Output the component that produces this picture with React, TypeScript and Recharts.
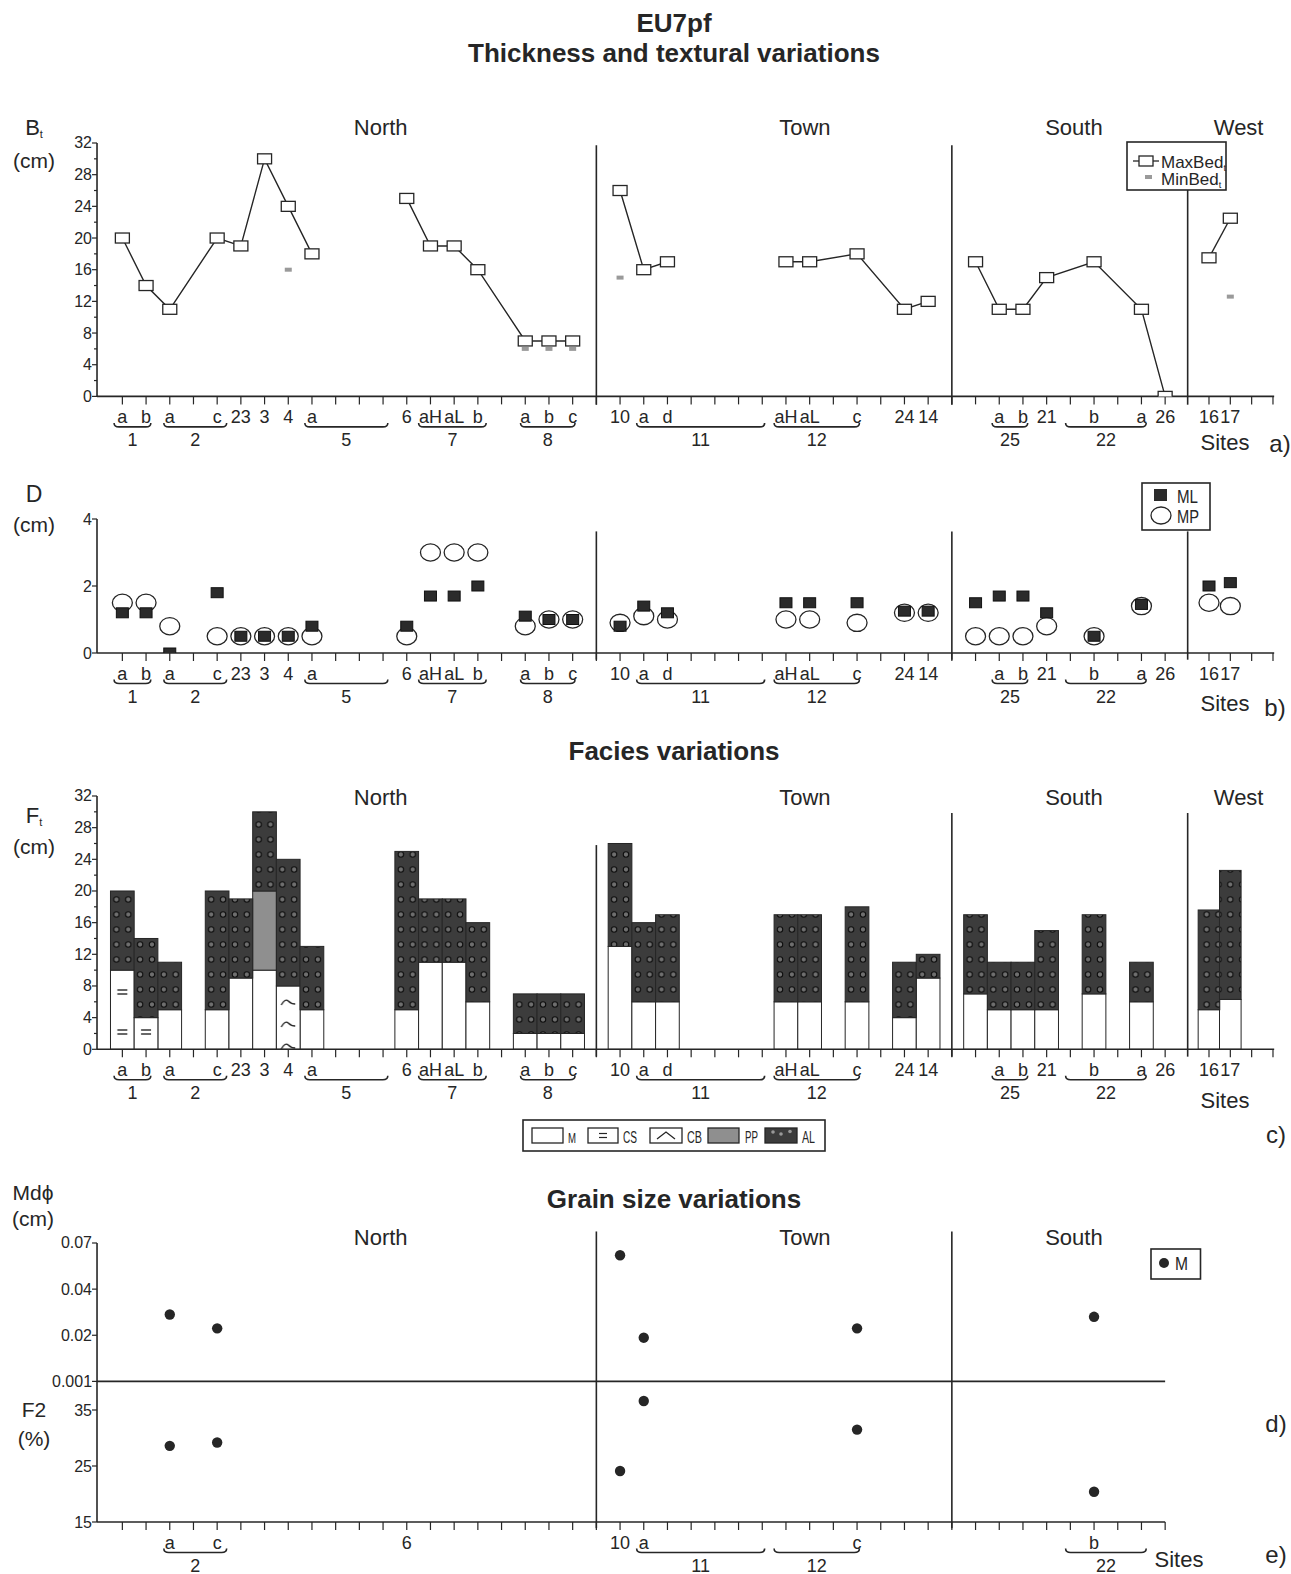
import React from 'react';
import { ComposedChart, Scatter, Bar, XAxis, YAxis, ReferenceLine } from 'recharts';

const FONT = '"Liberation Sans", Arial, Helvetica, sans-serif';
const INK = '#262626';

// ---- sites along the shared axis (one slot per site) ----
const SITES = ['1a', '1b', '2a', '2c', '23', '3', '4', '5a', '6', '7aH', '7aL', '7b', '8a', '8b', '8c', '10', '11a', '11d', '12aH', '12aL', '12c', '24', '14', 'S', '25a', '25b', '21', '22b', '22a', '26', '16', '17'];
const SITE_X = [0, 1, 2, 4, 5, 6, 7, 8, 12, 13, 14, 15, 17, 18, 19, 21, 22, 23, 28, 29, 31, 33, 34, 36, 37, 38, 39, 41, 43, 44, 45.85, 46.75];

// a) bed thickness (cm)
const MAX_BED = [20, 14, 11, 20, 19, 30, 24, 18, 25, 19, 19, 16, 7, 7, 7, 26, 16, 17, 17, 17, 18, 11, 12, 17, 11, 11, 15, 17, 11, 0, 17.5, 22.5];
const MIN_BED = [null, null, null, null, null, null, 16, null, null, null, null, null, 6, 6, 6, 15, null, null, null, null, null, null, null, null, null, null, null, null, null, null, null, 12.6];
const MAX_BED_RUNS = [[0, 7], [8, 14], [15, 17], [18, 22], [23, 29], [30, 31]];

// b) clast diameters (cm)
const ML = [1.2, 1.2, 0, 1.8, 0.5, 0.5, 0.5, 0.8, 0.8, 1.7, 1.7, 2.0, 1.1, 1.0, 1.0, 0.8, 1.4, 1.2, 1.5, 1.5, 1.5, 1.25, 1.25, 1.5, 1.7, 1.7, 1.2, 0.5, 1.45, null, 2.0, 2.1];
const MP = [1.5, 1.5, 0.8, 0.5, 0.5, 0.5, 0.5, 0.5, 0.5, 3, 3, 3, 0.8, 1.0, 1.0, 0.9, 1.1, 1.0, 1.0, 1.0, 0.9, 1.2, 1.2, 0.5, 0.5, 0.5, 0.8, 0.5, 1.4, null, 1.5, 1.4];

// c) facies thickness (cm)
const F_M = [null, null, 5, 5, 9, 10, null, 5, 5, 11, 11, 6, 2, 2, 2, 13, 6, 6, 6, 6, 6, 4, 9, 7, 5, 5, 5, 7, 6, null, 5, 6.3];
const F_CS = [10, 4, null, null, null, null, null, null, null, null, null, null, null, null, null, null, null, null, null, null, null, null, null, null, null, null, null, null, null, null, null, null];
const F_CB = [null, null, null, null, null, null, 8, null, null, null, null, null, null, null, null, null, null, null, null, null, null, null, null, null, null, null, null, null, null, null, null, null];
const F_PP = [null, null, null, null, null, 10, null, null, null, null, null, null, null, null, null, null, null, null, null, null, null, null, null, null, null, null, null, null, null, null, null, null];
const F_AL = [10, 10, 6, 15, 10, 10, 16, 8, 20, 8, 8, 10, 5, 5, 5, 13, 10, 11, 11, 11, 12, 7, 3, 10, 6, 6, 10, 10, 5, null, 12.6, 16.3];

// d) / e) grain size
const GS_X = [2, 4, 21, 22, 31, 41];
const MD = [0.029, 0.023, 0.062, 0.019, 0.023, 0.028];
const F2 = [28.6, 29.2, 24.1, 36.6, 31.5, 20.4];
const MD_TICKS = [0.001, 0.02, 0.04, 0.07];

// ---- tick labels ----
const TICK_X = [0, 1, 2, 3, 4, 5, 6, 7, 8, 9, 10, 11, 12, 13, 14, 15, 16, 17, 18, 19, 20, 21, 22, 23, 24, 25, 26, 27, 28, 29, 30, 31, 32, 33, 34, 35, 36, 37, 38, 39, 40, 41, 42, 43, 44, 45.85, 46.75, 47.65, 48.55];
const TICK_LABELS = ['a', 'b', 'a', '', 'c', '23', '3', '4', 'a', '', '', '', '6', 'aH', 'aL', 'b', '', 'a', 'b', 'c', '', '10', 'a', 'd', '', '', '', '', 'aH', 'aL', '', 'c', '', '24', '14', '', '', 'a', 'b', '21', '', 'b', '', 'a', '26', '16', '17', '', ''];
const GS_TICK_X = [0, 1, 2, 3, 4, 5, 6, 7, 8, 9, 10, 11, 12, 13, 14, 15, 16, 17, 18, 19, 20, 21, 22, 23, 24, 25, 26, 27, 28, 29, 30, 31, 32, 33, 34, 35, 36, 37, 38, 39, 40, 41, 42, 43, 44];
const GS_TICK_LABELS = ['', '', 'a', '', 'c', '', '', '', '', '', '', '', '6', '', '', '', '', '', '', '', '', '10', 'a', '', '', '', '', '', '', '', '', 'c', '', '', '', '', '', '', '', '', '', 'b', '', '', ''];

const GROUP_NAMES = ['1', '2', '5', '7', '8', '11', '12', '25', '22'];
const GROUP_FROM = [-0.35, 1.75, 7.7, 12.5, 16.8, 21.7, 27.5, 36.7, 39.8];
const GROUP_TO = [1.2, 4.4, 11.2, 15.35, 19.1, 27.1, 31.1, 38.2, 43.2];
const GS_GROUP_NAMES = ['2', '11', '12', '22'];
const GS_GROUP_FROM = [1.75, 21.7, 27.5, 39.8];
const GS_GROUP_TO = [4.4, 27.1, 31.1, 43.2];

const REGIONS = ['North', 'Town', 'South', 'West'];
const REGION_X = [10.9, 28.8, 40.15, 47.1];
const DIVIDERS = [20, 35, 44.95];

// ---- layout ----
const CHART_W = 1291;
const LEFT = 97;
const SLOT = 23.7;
const X_MIN = -1.07;
const X_MAX = 48.6;
const X_MAX_GS = 44;
const YAXIS_W = 40;
const MT = 24;
const WEST_BAR = 21.6;

const PA = { top: 143.3, bottom: 396.7 };
const PB = { top: 519.3, bottom: 653.3 };
const PC = { top: 796, bottom: 1049.3 };
const PD = { top: 1243.3, bottom: 1381.7 };
const PE = { top: 1381.7, bottom: 1521.7 };

const xPx = (v: number) => LEFT + (v - X_MIN) * SLOT;
const margin = (xMax: number, bottom = 2) => ({ top: MT, right: CHART_W - LEFT - (xMax - X_MIN) * SLOT, bottom, left: LEFT - YAXIS_W });

function mdPos(v: number) {
  for (let i = 0; i < MD_TICKS.length - 1; i++) {
    if (v <= MD_TICKS[i + 1]) return i + (v - MD_TICKS[i]) / (MD_TICKS[i + 1] - MD_TICKS[i]);
  }
  return MD_TICKS.length - 1;
}

const axisLine = { stroke: INK, strokeWidth: 1.6 };

// rows that only carry x, so every axis has data to build its scale from
const AXIS_ROWS = TICK_X.map((x) => ({ x }));
const GS_AXIS_ROWS = GS_TICK_X.map((x) => ({ x }));

// ---- ticks ----
const siteTick = (xs: number[], labels: string[]) => (p: any) => {
  const i = xs.indexOf(p.payload.value);
  const t = i >= 0 ? labels[i] : '';
  if (!t) return <g />;
  return (
    <text x={p.x} y={p.y + 10.5} textAnchor="middle" dominantBaseline="central" fontSize={18} fontFamily={FONT} fill={INK}>{t}</text>
  );
};

const groupTick = (names: string[], from: number[], to: number[]) => (p: any) => {
  const i = from.findIndex((f, k) => Math.abs((f + to[k]) / 2 - p.payload.value) < 1e-6);
  if (i < 0) return <g />;
  const half = ((to[i] - from[i]) / 2) * SLOT;
  const x = p.x;
  const y = p.y + 0.5;
  return (
    <g>
      <path d={`M${x - half},${y - 4} Q${x - half},${y} ${x - half + 5},${y} L${x + half - 5},${y} Q${x + half},${y} ${x + half},${y - 4}`} fill="none" stroke={INK} strokeWidth={1.6} />
      <text x={x} y={y + 13} textAnchor="middle" dominantBaseline="central" fontSize={18} fontFamily={FONT} fill={INK}>{names[i]}</text>
    </g>
  );
};

const yTick = (fmt: (v: number) => string, isMajor: (v: number) => boolean) => (p: any) => {
  const v = p.payload.value;
  const major = isMajor(v);
  return (
    <g>
      <line x1={p.x - (major ? 5 : 3)} x2={p.x} y1={p.y} y2={p.y} stroke={INK} strokeWidth={1.2} />
      {major && (
        <text x={p.x - 5} y={p.y} textAnchor="end" dominantBaseline="central" fontSize={16} fontFamily={FONT} fill={INK}>{fmt(v)}</text>
      )}
    </g>
  );
};

const dividers = (tops: number[], bottom: number, xs: number[] = DIVIDERS) =>
  xs.map((x, i) => (
    <ReferenceLine key={'dv' + i} segment={[{ x, y: tops[i] }, { x, y: bottom }]} stroke={INK} strokeWidth={1.6} ifOverflow="visible" />
  ));

const siteAxes = (xMax: number, tickX: number[], labels: string[], gNames: string[], gFrom: number[], gTo: number[]) => [
  <XAxis key="x0" type="number" dataKey="x" domain={[X_MIN, xMax]} allowDataOverflow ticks={tickX} interval={0}
    tickSize={8} tickLine={{ stroke: INK, strokeWidth: 1.2 }} axisLine={axisLine} height={30} tick={siteTick(tickX, labels)} />,
  <XAxis key="xg" xAxisId="g" type="number" dataKey="x" domain={[X_MIN, xMax]} allowDataOverflow ticks={gFrom.map((f, k) => (f + gTo[k]) / 2)}
    interval={0} tickSize={0} tickMargin={0} tickLine={false} axisLine={false} height={28} tick={groupTick(gNames, gFrom, gTo)} />,
];

// ---- marker shapes ----
const boxShape = (p: any) => <rect x={p.cx - 7} y={p.cy - 5} width={14} height={10} fill="#fff" stroke={INK} strokeWidth={1.3} />;
const minShape = (p: any) => <rect x={p.cx - 3.5} y={p.cy - 2} width={7} height={4} fill="#9a9a9a" />;
const mlShape = (p: any) => <rect x={p.cx - 6} y={p.cy - 5} width={12} height={10} fill="#2b2b2b" stroke="#111" strokeWidth={1} />;
const mpShape = (p: any) => <ellipse cx={p.cx} cy={p.cy} rx={10} ry={8.6} fill="#fff" stroke={INK} strokeWidth={1.3} />;
const dotShape = (p: any) => <circle cx={p.cx} cy={p.cy} r={5.2} fill="#262626" />;

function FaciesRect(p: any) {
  if (!p.height || p.height <= 0) return <g />;
  const w = p.payload && p.payload.x > 45 ? WEST_BAR : SLOT;
  const cx = p.x + p.width / 2;
  return <rect x={cx - w / 2} y={p.y} width={w} height={p.height} fill={p.fill} stroke={INK} strokeWidth={1} />;
}

const pts = (xs: number[], ys: (number | null)[]) =>
  xs.map((x, i) => ({ x, y: ys[i] })).filter((d) => d.y !== null && d.y !== undefined);

function PanelA() {
  const h = MT + (PA.bottom - PA.top) + 60;
  return (
    <div style={{ position: 'absolute', left: 0, top: PA.top - MT }}>
      <ComposedChart width={CHART_W} height={h} margin={margin(X_MAX)} data={AXIS_ROWS}>
        {siteAxes(X_MAX, TICK_X, TICK_LABELS, GROUP_NAMES, GROUP_FROM, GROUP_TO)}
        <YAxis type="number" dataKey="y" domain={[0, 32]} allowDataOverflow ticks={[0, 2, 4, 6, 8, 10, 12, 14, 16, 18, 20, 22, 24, 26, 28, 30, 32]}
          interval={0} width={YAXIS_W} tickSize={0} tickMargin={0} tickLine={false} axisLine={axisLine}
          tick={yTick((v) => String(v), (v) => v % 4 === 0)} />
        {dividers([31.7, 31.7, 26.1], -1.05)}
        {MAX_BED_RUNS.map(([a, b], k) => (
          <Scatter key={'mx' + k} data={pts(SITE_X.slice(a, b + 1), MAX_BED.slice(a, b + 1))} dataKey="y"
            line={{ stroke: INK, strokeWidth: 1.4 }} lineType="joint" shape={boxShape} isAnimationActive={false} />
        ))}
        <Scatter data={pts(SITE_X, MIN_BED)} dataKey="y" shape={minShape} isAnimationActive={false} />
      </ComposedChart>
    </div>
  );
}

function PanelB() {
  const h = MT + (PB.bottom - PB.top) + 60;
  return (
    <div style={{ position: 'absolute', left: 0, top: PB.top - MT }}>
      <ComposedChart width={CHART_W} height={h} margin={margin(X_MAX)} data={AXIS_ROWS}>
        {siteAxes(X_MAX, TICK_X, TICK_LABELS, GROUP_NAMES, GROUP_FROM, GROUP_TO)}
        <YAxis type="number" dataKey="y" domain={[0, 4]} allowDataOverflow ticks={[0, 2, 4]}
          interval={0} width={YAXIS_W} tickSize={0} tickMargin={0} tickLine={false} axisLine={axisLine}
          tick={yTick((v) => String(v), () => true)} />
        {dividers([3.63, 3.63, 3.63], -0.2)}
        <Scatter data={pts(SITE_X, MP)} dataKey="y" shape={mpShape} isAnimationActive={false} />
        <Scatter data={pts(SITE_X, ML)} dataKey="y" shape={mlShape} isAnimationActive={false} />
      </ComposedChart>
    </div>
  );
}

const FACIES_ROWS = SITES.map((s, i) => ({ site: s, x: SITE_X[i], M: F_M[i], CS: F_CS[i], CB: F_CB[i], PP: F_PP[i], AL: F_AL[i] }));

function PanelC() {
  const h = MT + (PC.bottom - PC.top) + 60;
  return (
    <div style={{ position: 'absolute', left: 0, top: PC.top - MT }}>
      <ComposedChart width={CHART_W} height={h} margin={margin(X_MAX)} data={FACIES_ROWS}>
        {siteAxes(X_MAX, TICK_X, TICK_LABELS, GROUP_NAMES, GROUP_FROM, GROUP_TO)}
        <YAxis type="number" domain={[0, 32]} allowDataOverflow ticks={[0, 2, 4, 6, 8, 10, 12, 14, 16, 18, 20, 22, 24, 26, 28, 30, 32]}
          interval={0} width={YAXIS_W} tickSize={0} tickMargin={0} tickLine={false} axisLine={axisLine}
          tick={yTick((v) => String(v), (v) => v % 4 === 0)} />
        <Bar dataKey="M" stackId="f" fill="#fff" shape={FaciesRect} isAnimationActive={false} />
        <Bar dataKey="CS" stackId="f" fill="url(#patCS)" shape={FaciesRect} isAnimationActive={false} />
        <Bar dataKey="CB" stackId="f" fill="url(#patCB)" shape={FaciesRect} isAnimationActive={false} />
        <Bar dataKey="PP" stackId="f" fill="#8f8f8f" shape={FaciesRect} isAnimationActive={false} />
        <Bar dataKey="AL" stackId="f" fill="url(#patAL)" shape={FaciesRect} isAnimationActive={false} />
        {dividers([25.8, 29.85, 29.85], -0.93)}
      </ComposedChart>
    </div>
  );
}

function PanelD() {
  const h = MT + (PD.bottom - PD.top) + 12;
  return (
    <div style={{ position: 'absolute', left: 0, top: PD.top - MT }}>
      <ComposedChart width={CHART_W} height={h} margin={margin(X_MAX_GS, 6)} data={GS_AXIS_ROWS}>
        <XAxis type="number" dataKey="x" domain={[X_MIN, X_MAX_GS]} allowDataOverflow ticks={GS_TICK_X} interval={0}
          tickSize={5} tickLine={{ stroke: INK, strokeWidth: 1.2 }} axisLine={axisLine} height={6} tick={false} />
        <YAxis type="number" dataKey="y" domain={[0, 3]} allowDataOverflow ticks={[0, 1, 2, 3]}
          interval={0} width={YAXIS_W} tickSize={0} tickMargin={0} tickLine={false} axisLine={axisLine}
          tick={yTick((v) => String(MD_TICKS[v]), () => true)} />
        {dividers([3.25, 3.25], 0, DIVIDERS.slice(0, 2))}
        <Scatter data={GS_X.map((x, i) => ({ x, y: mdPos(MD[i]) }))} dataKey="y" shape={dotShape} isAnimationActive={false} />
      </ComposedChart>
    </div>
  );
}

function PanelE() {
  const h = MT + (PE.bottom - PE.top) + 60;
  return (
    <div style={{ position: 'absolute', left: 0, top: PE.top - MT }}>
      <ComposedChart width={CHART_W} height={h} margin={margin(X_MAX_GS)} data={GS_AXIS_ROWS}>
        {siteAxes(X_MAX_GS, GS_TICK_X, GS_TICK_LABELS, GS_GROUP_NAMES, GS_GROUP_FROM, GS_GROUP_TO)}
        <YAxis type="number" dataKey="y" domain={[15, 40]} allowDataOverflow ticks={[15, 25, 35]}
          interval={0} width={YAXIS_W} tickSize={0} tickMargin={0} tickLine={false} axisLine={axisLine}
          tick={yTick((v) => String(v), () => true)} />
        {dividers([40, 40], 13.9, DIVIDERS.slice(0, 2))}
        <Scatter data={pts(GS_X, F2)} dataKey="y" shape={dotShape} isAnimationActive={false} />
      </ComposedChart>
    </div>
  );
}

function T({ x, y, size = 22, bold = false, anchor = 'middle', len, children }: any) {
  return (
    <text x={x} y={y} fontSize={size} fontWeight={bold ? 'bold' : 'normal'} textAnchor={anchor} fontFamily={FONT} fill={INK}
      textLength={len} lengthAdjust={len ? 'spacingAndGlyphs' : undefined}>{children}</text>
  );
}

function Overlay() {
  const alLeft = xPx(0) - SLOT / 2;
  return (
    <svg width={CHART_W} height={1574} style={{ position: 'absolute', left: 0, top: 0, pointerEvents: 'none' }}>
      <defs>
        <pattern id="patAL" patternUnits="userSpaceOnUse" x={alLeft} y={0} width={SLOT / 2} height={15}>
          <rect width={SLOT / 2} height={15} fill="#3c3c3c" />
          <circle cx={SLOT / 4} cy={7.5} r={2.7} fill="#6f6f6f" stroke="#0d0d0d" strokeWidth={1.1} />
        </pattern>
        <pattern id="patCS" patternUnits="userSpaceOnUse" x={alLeft} y={0} width={SLOT} height={40}>
          <rect width={SLOT} height={40} fill="#fff" />
          <line x1={SLOT / 2 - 5} x2={SLOT / 2 + 5} y1={18} y2={18} stroke={INK} strokeWidth={1.4} />
          <line x1={SLOT / 2 - 5} x2={SLOT / 2 + 5} y1={22} y2={22} stroke={INK} strokeWidth={1.4} />
        </pattern>
        <pattern id="patCB" patternUnits="userSpaceOnUse" x={alLeft} y={0} width={SLOT} height={22}>
          <rect width={SLOT} height={22} fill="#fff" />
          <path d={`M${SLOT / 2 - 7},13 Q${SLOT / 2 - 3},6 ${SLOT / 2},9 T${SLOT / 2 + 7},12`} fill="none" stroke={INK} strokeWidth={1.4} />
        </pattern>
      </defs>

      <T x={674} y={32} size={26} bold>EU7pf</T>
      <T x={674} y={62} size={26} bold>Thickness and textural variations</T>
      <T x={674} y={760} size={26} bold>Facies variations</T>
      <T x={674} y={1208} size={26} bold>Grain size variations</T>

      {REGIONS.map((r, i) => <T key={'ra' + r} x={xPx(REGION_X[i])} y={135}>{r}</T>)}
      {REGIONS.map((r, i) => <T key={'rc' + r} x={xPx(REGION_X[i])} y={805}>{r}</T>)}
      {REGIONS.slice(0, 3).map((r, i) => <T key={'rd' + r} x={xPx(REGION_X[i])} y={1245}>{r}</T>)}

      <T x={34} y={135}>B<tspan fontSize={11} dy={3}>t</tspan></T>
      <T x={34} y={168} size={21}>(cm)</T>
      <T x={34} y={502} size={23}>D</T>
      <T x={34} y={532} size={21}>(cm)</T>
      <T x={34} y={823}>F<tspan fontSize={11} dy={3}>t</tspan></T>
      <T x={34} y={854} size={21}>(cm)</T>
      <T x={33} y={1200} size={21}>Mdϕ</T>
      <T x={33} y={1226} size={21}>(cm)</T>
      <T x={34} y={1417} size={21}>F2</T>
      <T x={34} y={1446} size={21}>(%)</T>

      <T x={1225} y={450}>Sites</T>
      <T x={1225} y={711}>Sites</T>
      <T x={1225} y={1108}>Sites</T>
      <T x={1179} y={1567}>Sites</T>
      <T x={1280} y={452} size={24}>a)</T>
      <T x={1275} y={716} size={24}>b)</T>
      <T x={1276} y={1143} size={24}>c)</T>
      <T x={1276} y={1432} size={24}>d)</T>
      <T x={1276} y={1563} size={24}>e)</T>

      {/* legend a */}
      <rect x={1127} y={142} width={99} height={48} fill="#fff" stroke={INK} strokeWidth={1.6} />
      <line x1={1133} x2={1159} y1={161} y2={161} stroke={INK} strokeWidth={1.3} />
      <rect x={1139} y={156} width={14} height={10} fill="#fff" stroke={INK} strokeWidth={1.3} />
      <T x={1161} y={168} size={17} anchor="start">MaxBed<tspan fontSize={9} dy={3}>t</tspan></T>
      <rect x={1145} y={175} width={7} height={4} fill="#9a9a9a" />
      <T x={1161} y={185} size={17} anchor="start">MinBed<tspan fontSize={9} dy={3}>t</tspan></T>

      {/* legend b */}
      <rect x={1142} y={483} width={68} height={47} fill="#fff" stroke={INK} strokeWidth={1.6} />
      <rect x={1154} y={489} width={13} height={12} fill="#2b2b2b" />
      <T x={1177} y={503} size={19} anchor="start" len={21}>ML</T>
      <ellipse cx={1161} cy={515.5} rx={10} ry={8.5} fill="#fff" stroke={INK} strokeWidth={1.3} />
      <T x={1177} y={523} size={19} anchor="start" len={22}>MP</T>

      {/* legend c */}
      <rect x={523} y={1120} width={302} height={31} fill="#fff" stroke={INK} strokeWidth={1.6} />
      <rect x={532} y={1128} width={31} height={15} fill="#fff" stroke={INK} strokeWidth={1.3} />
      <T x={568} y={1143} size={15} anchor="start" len={8}>M</T>
      <rect x={588} y={1128} width={30} height={15} fill="#fff" stroke={INK} strokeWidth={1.3} />
      <line x1={599} x2={607} y1={1133.5} y2={1133.5} stroke={INK} strokeWidth={1.2} />
      <line x1={599} x2={607} y1={1137.5} y2={1137.5} stroke={INK} strokeWidth={1.2} />
      <T x={623} y={1143} size={16} anchor="start" len={14}>CS</T>
      <rect x={650} y={1128} width={32} height={15} fill="#fff" stroke={INK} strokeWidth={1.3} />
      <path d="M657,1139 L666,1132 L675,1139" fill="none" stroke={INK} strokeWidth={1.3} />
      <T x={687} y={1143} size={16} anchor="start" len={15}>CB</T>
      <rect x={708} y={1128} width={31} height={15} fill="#8f8f8f" stroke={INK} strokeWidth={1.3} />
      <T x={745} y={1143} size={16} anchor="start" len={13}>PP</T>
      <rect x={765} y={1128} width={32} height={15} fill="#3c3c3c" stroke={INK} strokeWidth={1.3} />
      <circle cx={773} cy={1132} r={1.8} fill="#999" />
      <circle cx={781} cy={1134} r={1.8} fill="#999" />
      <circle cx={790} cy={1131.5} r={1.8} fill="#999" />
      <T x={802} y={1143} size={16} anchor="start" len={13}>AL</T>

      {/* legend d */}
      <rect x={1151} y={1249} width={49.5} height={30} fill="#fff" stroke={INK} strokeWidth={1.6} />
      <circle cx={1164} cy={1263} r={5} fill="#262626" />
      <T x={1175} y={1270} size={19} anchor="start" len={13}>M</T>
    </svg>
  );
}

export default function App() {
  return (
    <div style={{ position: 'absolute', left: 0, top: 0, width: CHART_W, height: 1574, background: '#fff', fontFamily: FONT }}>
      <PanelA />
      <PanelB />
      <PanelC />
      <PanelD />
      <PanelE />
      <Overlay />
    </div>
  );
}
